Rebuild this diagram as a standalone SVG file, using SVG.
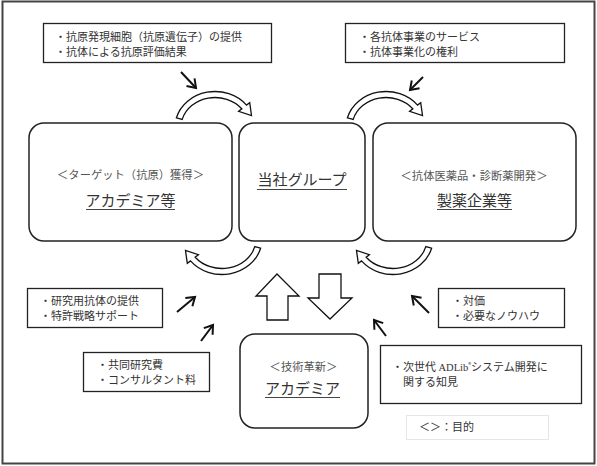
<svg xmlns="http://www.w3.org/2000/svg" width="597" height="466" viewBox="0 0 597 466">
<style>
.t{font-family:"Noto Sans CJK JP","Liberation Serif",sans-serif;font-size:11px;fill:#333}
.sub{font-family:"Noto Sans CJK JP",sans-serif;font-size:11.3px;fill:#555}
.ttl{font-family:"Noto Sans CJK JP",sans-serif;font-size:15px;fill:#333}
.box{fill:#fff;stroke:#222;stroke-width:1.3}
.node{fill:#fff;stroke:#222;stroke-width:1.5}
.ul{stroke:#444;stroke-width:1}
.arr{stroke:#111;stroke-width:2;fill:none}
.blk{fill:#fff;stroke:#111;stroke-width:1.3;stroke-linejoin:miter}
</style>
<defs>
<marker id="ah" markerUnits="userSpaceOnUse" markerWidth="14" markerHeight="14" refX="9" refY="0" viewBox="-2 -7 14 14" orient="auto" overflow="visible">
<path d="M1,-5.5 L9,0 L1,5.5" fill="none" stroke="#111" stroke-width="2"/>
</marker>
<path id="carc" d="M176.4,117.8 A40 35.5 0 0 1 246.5,105.1 L249.7,102.7 L251.5,115.5 L238.6,111.3 L241.8,108.8 A34 29.5 0 0 0 182.2,119.4 Z"/>
</defs>
<rect x="2.5" y="1.5" width="592" height="462" fill="#fff" stroke="#444" stroke-width="2"/>

<g id="connectors">
<use href="#carc" class="blk"/>
<use href="#carc" class="blk" transform="translate(171,0)"/>
<use href="#carc" class="blk" transform="rotate(180 218.5 183)"/>
<use href="#carc" class="blk" transform="translate(171,0) rotate(180 218.5 183)"/>
<path class="blk" d="M277,274 L299,296 L288,296 L288,320 L267,320 L267,296 L256,296 Z"/>
<path class="blk" d="M319,274 L341,274 L341,298 L352,298 L330,319 L308,298 L319,298 Z"/>
<line class="arr" x1="181" y1="72" x2="196" y2="88" marker-end="url(#ah)"/>
<line class="arr" x1="423" y1="77" x2="410" y2="90" marker-end="url(#ah)"/>
<line class="arr" x1="177" y1="312" x2="195" y2="297" marker-end="url(#ah)"/>
<line class="arr" x1="201" y1="341" x2="213" y2="325" marker-end="url(#ah)"/>
<line class="arr" x1="429" y1="313" x2="412" y2="296" marker-end="url(#ah)"/>
<line class="arr" x1="386" y1="336" x2="374" y2="320" marker-end="url(#ah)"/>
</g>

<g id="note-top-left">
<rect class="box" x="43.5" y="23.5" width="228" height="39"/>
<text class="t" x="55" y="40.5">・抗原発現細胞（抗原遺伝子）の提供</text>
<text class="t" x="55" y="55.5">・抗体による抗原評価結果</text>
</g>
<g id="note-top-right">
<rect class="box" x="345.5" y="23.5" width="219" height="39"/>
<text class="t" x="359" y="40.5">・各抗体事業のサービス</text>
<text class="t" x="359" y="55.5">・抗体事業化の権利</text>
</g>

<g id="node-academia-left">
<rect class="node" x="29" y="123" width="203" height="118" rx="15"/>
<text class="sub" x="130.5" y="179" text-anchor="middle">＜ターゲット（抗原）獲得＞</text>
<text class="ttl" x="130.5" y="206" text-anchor="middle">アカデミア等</text>
<line class="ul" x1="86" y1="209.5" x2="175" y2="209.5"/>
</g>
<g id="node-group">
<rect class="node" x="239" y="123" width="126" height="118" rx="15"/>
<text class="ttl" x="302" y="185" text-anchor="middle">当社グループ</text>
<line class="ul" x1="257" y1="189.5" x2="347" y2="189.5"/>
</g>
<g id="node-pharma">
<rect class="node" x="373" y="123" width="203" height="118" rx="15"/>
<text class="sub" x="474" y="180" text-anchor="middle">＜抗体医薬品・診断薬開発＞</text>
<text class="ttl" x="474.5" y="206" text-anchor="middle">製薬企業等</text>
<line class="ul" x1="437" y1="209.5" x2="512" y2="209.5"/>
</g>
<g id="node-academia-bottom">
<rect class="node" x="240" y="334" width="128" height="94" rx="15"/>
<text class="sub" x="303.5" y="371" text-anchor="middle">＜技術革新＞</text>
<text class="ttl" x="302.5" y="394" text-anchor="middle">アカデミア</text>
<line class="ul" x1="265" y1="397.5" x2="340" y2="397.5"/>
</g>

<g id="note-left-mid">
<rect class="box" x="27.5" y="288.5" width="135" height="39"/>
<text class="t" x="40" y="304.5">・研究用抗体の提供</text>
<text class="t" x="40" y="319.5">・特許戦略サポート</text>
</g>
<g id="note-left-low">
<rect class="box" x="83.5" y="352.5" width="126" height="39"/>
<text class="t" x="97" y="369">・共同研究費</text>
<text class="t" x="97" y="384">・コンサルタント料</text>
</g>
<g id="note-right-mid">
<rect class="box" x="438.5" y="288.5" width="126" height="39"/>
<text class="t" x="452" y="304.5">・対価</text>
<text class="t" x="452" y="319.5">・必要なノウハウ</text>
</g>
<g id="note-right-low">
<rect class="box" x="380.5" y="345.5" width="201" height="58"/>
<text class="t" x="392" y="370.5">・次世代 <tspan font-family="Liberation Serif" font-size="10.5">ADLib</tspan><tspan font-size="6" dy="-4">®</tspan><tspan dy="4">システム開発に</tspan></text>
<text class="t" x="403" y="385.5">関する知見</text>
</g>
<g id="legend">
<rect x="406.5" y="415.5" width="142" height="24" fill="#fff" stroke="#e6e6e6" stroke-width="1"/>
<text class="t" x="419" y="431">＜＞：目的</text>
</g>
</svg>
